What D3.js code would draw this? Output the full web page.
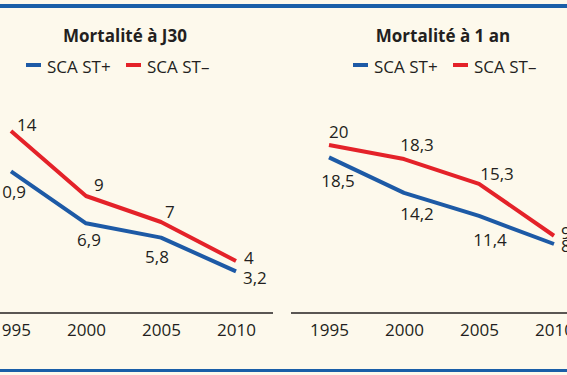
<!DOCTYPE html>
<html>
<head>
<meta charset="utf-8">
<script src="https://cdn.jsdelivr.net/npm/d3@7"></script>
<style>
  body { margin: 0; background: #fdf9ec; }
  svg { display: block; font-family: "Open Sans", sans-serif; }
</style>
</head>
<body>
<div id="chart"></div>
<script>
// data
const years = [1995, 2000, 2005, 2010];
const seriesNames = ["SCA ST+", "SCA ST–"];
const titles = ["Mortalité à J30", "Mortalité à 1 an"];
const j30Plus = [10.9, 6.9, 5.8, 3.2];
const j30Minus = [14, 9, 7, 4];
const an1Plus = [18.5, 14.2, 11.4, 8];
const an1Minus = [20, 18.3, 15.3, 9];

const W = 567, H = 375;
const colors = ["#1d5aa6", "#e42229"];
const ink = "#231f20";

const fr = d3.formatLocale({decimal: ",", thousands: " ", grouping: [3], currency: ["", " €"]});
const fmt = fr.format("~g");

const svg = d3.select("#chart")
    .append("svg")
    .attr("width", W)
    .attr("height", H);

svg.append("rect").attr("width", W).attr("height", H).attr("fill", "#fdf9ec");
// blue frame lines top and bottom
svg.append("rect").attr("x", 0).attr("y", 4).attr("width", W).attr("height", 4).attr("fill", "#1a5fa8");
svg.append("rect").attr("x", 0).attr("y", 369).attr("width", W).attr("height", 3).attr("fill", "#1a5fa8");

// layout per panel; label offsets are [dx, dy, anchor] per point
const panels = [
  {
    title: titles[0], series: [j30Plus, j30Minus],
    xRange: [11, 236], yMax: 14, yRange: [313, 131],
    axis: [0, 273], titleX: 125, legendX: 26,
    labels: [
      [[15, 27, "end"], [3, 23, "middle"], [-4, 25, "middle"], [7, 13, "start"]],
      [[6, 0, "start"], [8, -5, "start"], [4, -4, "start"], [8, 3, "start"]]
    ]
  },
  {
    title: titles[1], series: [an1Plus, an1Minus],
    xRange: [329, 554], yMax: 20, yRange: [310, 145],
    axis: [291, 567], titleX: 443, legendX: 353,
    labels: [
      [[9, 30, "middle"], [13, 27, "middle"], [11, 30, "middle"], [7, 8, "start"]],
      [[0, -7, "start"], [13, -8, "middle"], [18, -4, "middle"], [7, 3, "start"]]
    ]
  }
];

panels.forEach(function(p) {
  const x = d3.scaleLinear().domain([1995, 2010]).range(p.xRange);
  const y = d3.scaleLinear().domain([0, p.yMax]).range(p.yRange);
  const g = svg.append("g");

  // title
  g.append("text")
    .attr("x", p.titleX)
    .attr("y", 42)
    .attr("text-anchor", "middle")
    .attr("font-weight", "bold")
    .attr("font-size", 17)
    .attr("fill", ink)
    .text(p.title);

  // legend
  const leg = g.selectAll(".leg")
    .data(seriesNames)
    .join("g")
    .attr("transform", (d, i) => `translate(${p.legendX + i * 100}, 0)`);
  leg.append("rect")
    .attr("x", 0).attr("y", 63)
    .attr("width", 15).attr("height", 4)
    .attr("fill", (d, i) => colors[i]);
  leg.append("text")
    .attr("x", 21).attr("y", 73)
    .attr("font-size", 17)
    .attr("fill", ink)
    .text(d => d);

  // baseline
  g.append("line")
    .attr("x1", p.axis[0]).attr("x2", p.axis[1])
    .attr("y1", 313).attr("y2", 313)
    .attr("stroke", ink)
    .attr("stroke-width", 1.3);

  const ax = g.append("g")
    .attr("transform", "translate(0,321)")
    .call(d3.axisBottom(x).tickValues(years).tickFormat(d3.format("d")).tickSize(0));
  ax.select(".domain").remove();
  ax.selectAll("text")
    .attr("font-family", "Open Sans, sans-serif")
    .attr("font-size", 17)
    .attr("fill", ink)
    .attr("dy", "0.71em");

  const line = d3.line()
    .x((d, i) => x(years[i]))
    .y(d => y(d));

  p.series.forEach(function(vals, s) {
    g.append("path")
      .attr("d", line(vals))
      .attr("fill", "none")
      .attr("stroke", colors[s])
      .attr("stroke-width", 4)
      .attr("stroke-linejoin", "round");

    g.selectAll(null)
      .data(vals)
      .join("text")
      .attr("x", (d, i) => x(years[i]) + p.labels[s][i][0])
      .attr("y", (d, i) => y(d) + p.labels[s][i][1])
      .attr("text-anchor", (d, i) => p.labels[s][i][2])
      .attr("font-size", 17)
      .attr("fill", ink)
      .text(d => fmt(d));
  });
});
</script>
</body>
</html>
